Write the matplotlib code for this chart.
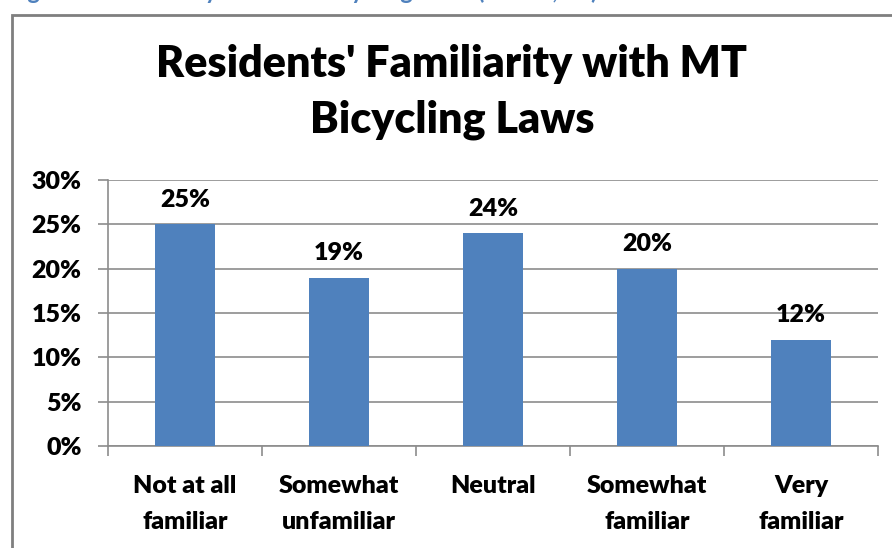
import matplotlib.pyplot as plt
from matplotlib.patches import Rectangle
from matplotlib.ticker import MultipleLocator, PercentFormatter

categories = ['Not at all\nfamiliar', 'Somewhat\nunfamiliar', 'Neutral', 'Somewhat\nfamiliar', 'Very\nfamiliar']
values = [25, 19, 24, 20, 12]
title = "Residents' Familiarity with MT\nBicycling Laws"
caption = 'Figure 5: Familiarity with MT Bicycling Laws (n=366, 60)'

bar_color = '#4F81BD'
grid_color = '#8C8C8C'
font = 'Lato'
weight = 'heavy'

fig = plt.figure(figsize=(8.92, 5.48), dpi=100)
W, H = 892, 548

# outer chart frame (cut off at right and bottom)
fig.patches.append(Rectangle((12 / W, -0.1), 1.2, 1 - 15 / H + 0.1, transform=fig.transFigure,
                             fill=False, edgecolor='#7F7F7F', linewidth=2))
# clipped caption above the chart
fig.text(8 / W, 1 + 1 / H, caption, color='#4F81BD', fontsize=17, fontweight='bold',
         family=font, va='baseline', ha='left')

ax = fig.add_axes([108 / W, 1 - 446 / H, (878 - 108) / W, (446 - 180) / H])
x = range(len(categories))
bars = ax.bar(x, values, width=0.39, color=bar_color, zorder=3)

for xi, v in zip(x, values):
    ax.text(xi, v + 1.5, f'{v}%', ha='center', va='bottom', fontsize=18,
            fontweight=weight, family=font)

ax.set_xlim(-0.5, len(categories) - 0.5)
ax.set_ylim(0, 30)
ax.yaxis.set_major_locator(MultipleLocator(5))
ax.yaxis.set_major_formatter(PercentFormatter(decimals=0))
ax.grid(axis='y', color=grid_color, linewidth=1.2, zorder=0)

ax.set_xticks([i - 0.5 for i in range(len(categories) + 1)], minor=False)
ax.set_xticklabels([])
ax.set_xticks(list(x), minor=True)
ax.set_xticklabels(categories, minor=True, fontsize=18, fontweight=weight, family=font,
                   linespacing=1.75)
ax.tick_params(axis='x', which='minor', length=0, pad=21)
ax.tick_params(axis='x', which='major', length=7, color=grid_color, width=1.2)
ax.tick_params(axis='y', length=7, color=grid_color, width=1.2, pad=12)
for lab in ax.get_yticklabels():
    lab.set_fontsize(18)
    lab.set_fontweight(weight)
    lab.set_family(font)

for side in ['top', 'right']:
    ax.spines[side].set_visible(False)
ax.spines['left'].set_color(grid_color)
ax.spines['bottom'].set_color(grid_color)
ax.spines['left'].set_linewidth(1.2)
ax.spines['bottom'].set_linewidth(1.2)

fig.text(452 / W, 1 - 92 / H, title, ha='center', va='center', fontsize=31,
         fontweight=weight, family=font, linespacing=1.5)

fig.savefig('out.png', dpi=100)
